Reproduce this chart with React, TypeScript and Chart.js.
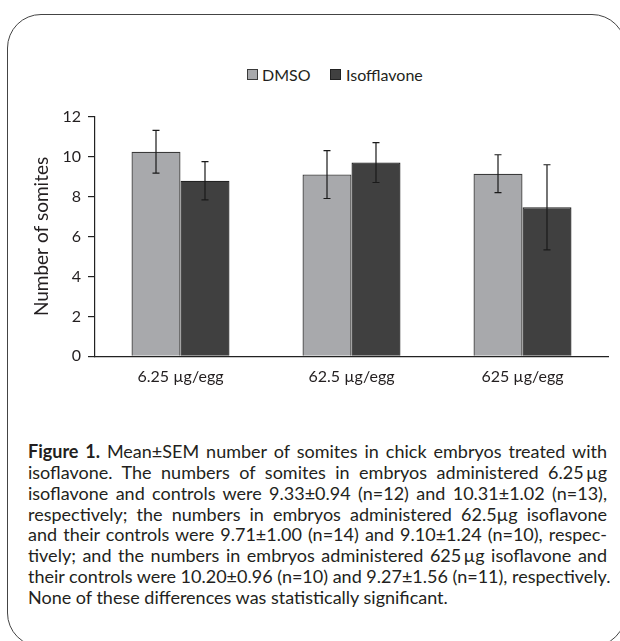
import React, { useEffect, useRef } from "react";
import { Chart, registerables } from "chart.js";

Chart.register(...registerables);

const categories = ["6.25 µg/egg", "62.5 µg/egg", "625 µg/egg"];
const seriesNames = ["DMSO", "Isofflavone"];
const dmsoValues = [10.24, 9.1, 9.14];
const dmsoErrors = [1.07, 1.2, 0.95];
const isoValues = [8.79, 9.7, 7.46];
const isoErrors = [0.96, 1.0, 2.13];
const yTicks = [0, 2, 4, 6, 8, 10, 12];
const yTitle = "Number of somites";
const captionLines = [
  "isoflavone. The numbers of somites in embryos administered 6.25\u2009µg",
  "isoflavone and controls were 9.33±0.94 (n=12) and 10.31±1.02 (n=13),",
  "respectively; the numbers in embryos administered 62.5µg isoflavone",
  "and their controls were 9.71±1.00 (n=14) and 9.10±1.24 (n=10), respec-",
  "tively; and the numbers in embryos administered 625\u2009µg isoflavone and",
  "their controls were 10.20±0.96 (n=10) and 9.27±1.56 (n=11), respectively.",
];
const captionFirstBold = "Figure 1.";
const captionFirstRest = " Mean±SEM number of somites in chick embryos treated with";
const captionLast = "None of these differences was statistically significant.";

const errorSeries = [dmsoErrors, isoErrors];
const fills = ["#a8a9ac", "#404040"];
const TEXT = "#231f20";
const FONT = "Lato, 'Noto Sans', sans-serif";

const errorBarPlugin = {
  id: "errorBars",
  afterDatasetsDraw(chart: any) {
    const ctx = chart.ctx;
    const yScale = chart.scales.y;
    chart.data.datasets.forEach((ds: any, di: number) => {
      const meta = chart.getDatasetMeta(di);
      const errs = errorSeries[di];
      meta.data.forEach((bar: any, i: number) => {
        const v = ds.data[i];
        const e = errs[i];
        const x = bar.x;
        const yT = yScale.getPixelForValue(v + e);
        const yB = yScale.getPixelForValue(v - e);
        ctx.save();
        ctx.strokeStyle = "#1a1a1a";
        ctx.lineWidth = 1.2;
        ctx.beginPath();
        ctx.moveTo(x, yT);
        ctx.lineTo(x, yB);
        ctx.moveTo(x - 3.5, yT);
        ctx.lineTo(x + 3.5, yT);
        ctx.moveTo(x - 3.5, yB);
        ctx.lineTo(x + 3.5, yB);
        ctx.stroke();
        ctx.restore();
      });
    });
  },
};

function BarChart() {
  const ref = useRef<HTMLCanvasElement | null>(null);
  useEffect(() => {
    if (!ref.current) return;
    const chart = new Chart(ref.current, {
      type: "bar",
      data: {
        labels: categories,
        datasets: [
          {
            label: seriesNames[0],
            data: dmsoValues,
            backgroundColor: fills[0],
            borderColor: "#3a3a3a",
            borderWidth: 1.3,
            categoryPercentage: 0.573,
            barPercentage: 1,
          },
          {
            label: seriesNames[1],
            data: isoValues,
            backgroundColor: fills[1],
            borderColor: "#222",
            borderWidth: 1.3,
            categoryPercentage: 0.573,
            barPercentage: 1,
          },
        ],
      },
      options: {
        animation: false,
        responsive: false,
        maintainAspectRatio: false,
        layout: { padding: { left: 0, right: 12, top: 11.7, bottom: 0 } },
        plugins: { legend: { display: false }, tooltip: { enabled: false } },
        scales: {
          x: {
            grid: { display: false, drawTicks: false },
            border: { display: true, color: "#222", width: 1.2 },
            ticks: { color: TEXT, font: { family: FONT, size: 16 }, padding: 11 },
            afterFit: (s: any) => {
              s.height = 43.7;
            },
          },
          y: {
            min: 0,
            max: 12,
            afterBuildTicks: (s: any) => {
              s.ticks = yTicks.map((v) => ({ value: v }));
            },
            grid: { display: true, drawOnChartArea: false, drawTicks: true, tickLength: 7, color: "#222", lineWidth: 1.2 },
            border: { display: true, color: "#222", width: 1.2 },
            ticks: { color: TEXT, font: { family: FONT, size: 16 }, padding: 7 },
            title: {
              display: true,
              text: yTitle,
              color: TEXT,
              font: { family: FONT, size: 19 },
              padding: { top: 30.6, bottom: 0 },
            },
            afterFit: (s: any) => {
              s.width = 95;
            },
          },
        },
      },
      plugins: [errorBarPlugin],
    });
    return () => chart.destroy();
  }, []);
  return <canvas ref={ref} width={620} height={300} style={{ position: "absolute", left: 0, top: 100, width: 620, height: 300 }} />;
}

const lineStyle: React.CSSProperties = {
  whiteSpace: "nowrap",
  textAlign: "justify",
  textAlignLast: "justify" as any,
  height: 20.8,
};

export default function App() {
  return (
    <div style={{ position: "absolute", left: 0, top: 0, width: 620, height: 641, overflow: "hidden", background: "#fff", fontFamily: FONT, color: TEXT }}>
      <div
        style={{
          position: "absolute",
          left: 7,
          top: 14,
          width: 619,
          height: 633,
          boxSizing: "border-box",
          border: "1.5px solid #444",
          borderRadius: 34,
        }}
      />
      {/* legend */}
      <div style={{ position: "absolute", left: 247, top: 69, width: 11, height: 11, boxSizing: "border-box", background: fills[0], border: "1px solid #3a3a3a" }} />
      <div style={{ position: "absolute", left: 262, top: 65, fontSize: 16, lineHeight: "20px" }}>{seriesNames[0]}</div>
      <div style={{ position: "absolute", left: 330, top: 69, width: 11, height: 11, boxSizing: "border-box", background: fills[1], border: "1px solid #222" }} />
      <div style={{ position: "absolute", left: 346, top: 65, fontSize: 16, lineHeight: "20px" }}>{seriesNames[1]}</div>
      <BarChart />
      <div style={{ position: "absolute", left: 28, top: 441.3, width: 579, fontSize: 18, lineHeight: "20.8px" }}>
        <div style={lineStyle}>
          <b>{captionFirstBold}</b>
          {captionFirstRest}
        </div>
        {captionLines.map((l, i) => (
          <div key={i} style={lineStyle}>
            {l}
          </div>
        ))}
        <div style={{ whiteSpace: "nowrap", height: 20.8 }}>{captionLast}</div>
      </div>
    </div>
  );
}
